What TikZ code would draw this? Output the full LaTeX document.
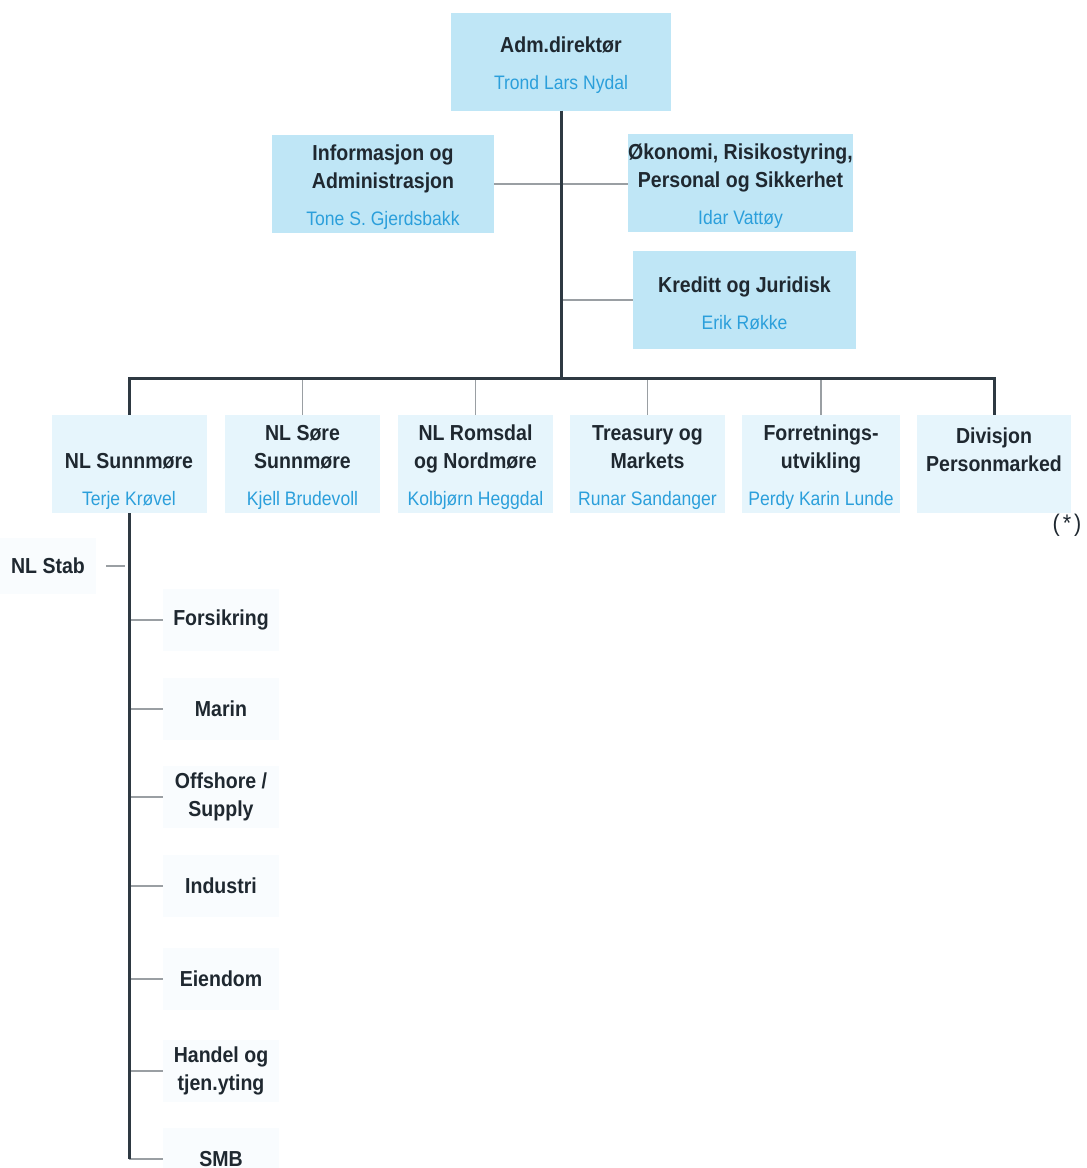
\documentclass[tikz,border=0pt]{standalone}
\usepackage{fontspec}
\setmainfont{Liberation Sans}[FakeStretch=0.9]
\usepackage{tikz}
\usepackage{xcolor}

\definecolor{boxblue}{HTML}{BFE6F6}
\definecolor{rowblue}{HTML}{E6F5FC}
\definecolor{paleblue}{HTML}{F9FCFE}
\definecolor{nameblue}{HTML}{2B9FDB}
\definecolor{inkdark}{HTML}{1F2830}
\definecolor{linedark}{HTML}{2E3942}
\definecolor{linegray}{HTML}{9A9FA3}
\newcommand{\orgtext}[2]{\rule{0pt}{23pt}#1\\[9pt]{\mdseries\fontsize{19.5}{28}\selectfont\color{nameblue}#2}}

\begin{document}
\begin{tikzpicture}[x=1pt,y=-1pt,font=\fontsize{21.7}{28}\selectfont\bfseries,text=inkdark,
  topbox/.style={fill=boxblue,align=center,inner sep=0pt,minimum height=98pt},
  rowbox/.style={fill=rowblue,align=center,inner sep=0pt,minimum width=155pt,minimum height=98pt},
  unitbox/.style={fill=paleblue,align=center,inner sep=0pt,minimum width=116pt,minimum height=62pt},
  trunk/.style={linedark,line width=3pt},
  branch/.style={linegray,line width=1.5pt}]
\useasboundingbox (0,0) rectangle (1087,1168);
% ledelse
\node[topbox,minimum width=220pt] (adm) at (561,61.5) {\orgtext{Adm.direktør}{Trond Lars Nydal}};
\node[topbox,minimum width=222pt] (info) at (383,184) {\orgtext{Informasjon og\\Administrasjon}{Tone S. Gjerdsbakk}};
\node[topbox,minimum width=225pt] (okon) at (740.5,182.5) {\orgtext{Økonomi, Risikostyring,\\Personal og Sikkerhet}{Idar Vattøy}};
\node[topbox,minimum width=223pt] (kred) at (744.5,300) {\orgtext{Kreditt og Juridisk}{Erik Røkke}};
% divisjoner
\node[rowbox] (sunn) at (129,464) {\orgtext{\mbox{}\\NL Sunnmøre}{Terje Krøvel}};
\node[rowbox] (sore) at (302.5,464) {\orgtext{NL Søre\\Sunnmøre}{Kjell Brudevoll}};
\node[rowbox] (roms) at (475.5,464) {\orgtext{NL Romsdal\\og Nordmøre}{Kolbjørn Heggdal}};
\node[rowbox] (treas) at (647.5,464) {\orgtext{Treasury og\\Markets}{Runar Sandanger}};
\node[rowbox,minimum width=158pt] (forr) at (821,464) {\orgtext{Forretnings-\\utvikling}{Perdy Karin Lunde}};
\node[rowbox,minimum width=154pt] (divp) at (994,464) {\orgtext{Divisjon\\Personmarked}{\mbox{}}};
\node[font=\fontsize{24}{28}\selectfont\mdseries] (star) at (1067,525) {(\hspace{3pt}*\hspace{3pt})};
% NL Sunnmøre
\node[unitbox,minimum width=96pt,minimum height=56pt] (stab) at (48,566) {NL Stab};
\node[unitbox] (fors) at (221,620) {Forsikring};
\node[unitbox] (marin) at (221,709) {Marin};
\node[unitbox] (offs) at (221,797) {Offshore /\\Supply};
\node[unitbox] (indu) at (221,886) {Industri};
\node[unitbox] (eiend) at (221,979) {Eiendom};
\node[unitbox] (handel) at (221,1071) {Handel og\\tjen.yting};
\node[unitbox] (smb) at (221,1159) {SMB};
% linjer
\coordinate (hub) at (561,378);
\draw[branch] (info.east) -- (info.east -| okon.west);
\draw[branch] (kred.west) -- (kred.west -| hub);
\foreach \n in {sore,roms,treas,forr}
  \draw[branch] (\n.north) -- (\n.north |- hub);
\foreach \n in {fors,marin,offs,indu,eiend,handel,smb}
  \draw[branch] (\n.west -| sunn.south) -- (\n.west);
\draw[branch,shorten <=10pt,shorten >=4pt] (stab.east) -- (stab.east -| sunn.south);
\draw[trunk] (adm.south) -- (hub);
\draw[trunk] (sunn.north) |- (hub) -| (divp.north);
\draw[trunk] (sunn.south) -- (sunn.south |- smb.west);
\end{tikzpicture}
\end{document}
